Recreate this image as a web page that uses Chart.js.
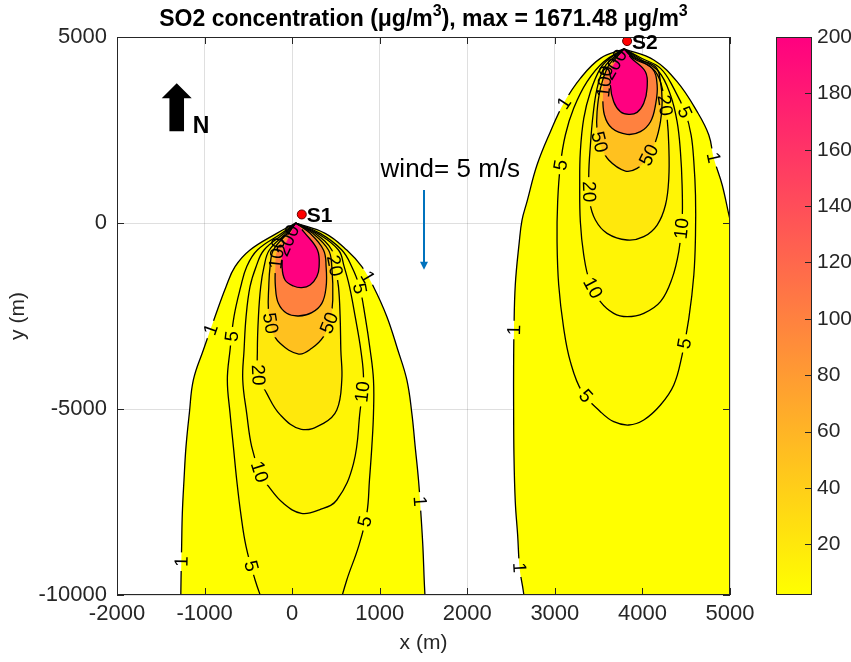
<!DOCTYPE html>
<html>
<head>
<meta charset="utf-8">
<script src="https://cdn.jsdelivr.net/npm/chart.js@4.4.1/dist/chart.umd.min.js"></script>
<style>
  html, body { margin: 0; padding: 0; background: #fff; }
  canvas { display: block; }
</style>
</head>
<body>
<canvas id="plume" width="851" height="662"></canvas>
<script>
// axes
const xTicks = [-2000, -1000, 0, 1000, 2000, 3000, 4000, 5000];
const yTicks = [-10000, -5000, 0, 5000];
const cbTicks = [20, 40, 60, 80, 100, 120, 140, 160, 180, 200];
const cbRange = [2, 200];

// contour levels (ug/m3)
const levels = [1, 5, 10, 20, 50, 100, 200];

// sources
const sourceNames = ['S1', 'S2'];
const sourceX = [110, 3825];
const sourceY = [230, 4890];

// wind annotation (data coords)
const windText = 'wind= 5 m/s';
const windTextAt = [1806, 1425];
const windArrow = [1500, 890, -1260];
const northAt = [-1318, 3755];

// S1 plume contours [x, y] in m
const s1c1 = [[40,0],[-176,-278],[-481,-726],[-652,-1174],[-755,-1712],[-881,-2518],[-1014,-3414],[-1128,-4220],[-1174,-5116],[-1212,-6012],[-1235,-6908],[-1254,-7804],[-1262,-8700],[-1269,-9596],[-1273,-10403],[-1275,-11200],[-1275,-12000],
  [1525,-12000],[1525,-11200],[1523,-10403],[1508,-9596],[1493,-8700],[1470,-7804],[1443,-6908],[1405,-6012],[1367,-5116],[1310,-4220],[1207,-3414],[1082,-2518],[929,-1712],[796,-1174],[624,-726],[377,-278],[40,0]];
const s1c5 = [[40,0],[-119,-278],[-397,-726],[-519,-1174],[-587,-1712],[-664,-2518],[-709,-3414],[-740,-4220],[-709,-5116],[-671,-6012],[-633,-6908],[-587,-7804],[-526,-8700],[-423,-9596],[-309,-10403],[-230,-11200],[-160,-12000],
  [400,-12000],[460,-11200],[529,-10403],[624,-9596],[758,-8700],[853,-7804],[883,-6908],[910,-6012],[929,-5116],[929,-4220],[891,-3414],[834,-2518],[769,-1712],[681,-1174],[567,-726],[320,-278],[40,0]];
const s1c10 = [[40,0],[-92,-278],[-321,-726],[-412,-1174],[-481,-1712],[-526,-2518],[-549,-3414],[-564,-4220],[-519,-5116],[-462,-6012],[-366,-6729],[-267,-7088],[-100,-7536],[105,-7804],
  [310,-7710],[510,-7446],[701,-6460],[777,-5027],[815,-4220],[784,-3414],[720,-2518],[655,-1712],[594,-1174],[529,-726],[289,-278],[40,0]];
const s1c20 = [[40,0],[-69,-278],[-260,-726],[-321,-1174],[-359,-1712],[-385,-2518],[-397,-3414],[-385,-4086],[-290,-4579],[-138,-5150],[105,-5546],
  [358,-5385],[510,-5027],[567,-4220],[556,-3414],[548,-2518],[529,-1712],[491,-1174],[453,-726],[262,-278],[40,0]];
const s1c50 = [[40,0],[-54,-278],[-214,-726],[-252,-1174],[-267,-1712],[-271,-2339],[-233,-2876],[-138,-3235],[75,-3522],
  [224,-3369],[358,-3056],[434,-2608],[464,-2070],[453,-1174],[415,-726],[236,-278],[40,0]];
const s1c100 = [[40,0],[-39,-278],[-168,-726],[-191,-1174],[-191,-1712],[-157,-2160],[-62,-2428],[72,-2500],
  [224,-2410],[339,-2160],[388,-1712],[388,-1174],[358,-726],[205,-278],[40,0]];
const s1c200 = [[40,0],[-16,-278],[-100,-726],[-115,-1174],[-81,-1532],[15,-1694],[110,-1738],
  [205,-1667],[281,-1443],[308,-1174],[289,-726],[148,-278],[40,0]];

// S2 plume contours
const s2c1 = [[3790,4680],[3520,4426],[3291,3888],[3101,3216],[2949,2455],[2796,1559],[2682,573],[2625,80],[2594,-502],[2548,-1667],[2533,-2921],[2529,-3907],[2529,-4803],[2533,-6237],[2548,-7491],[2575,-8387],[2598,-9283],[2640,-9900],[2682,-10716],[2720,-12000],
  [5150,-12000],[5250,-9000],[5300,-6000],[5250,-3000],[5150,-1200],[5006,35],[4911,1021],[4815,1738],[4758,2365],[4625,2992],[4396,3799],[4130,4381],[3790,4680]];
const s2c5 = [[3790,4680],[3558,4336],[3368,3799],[3215,3082],[3120,2365],[3063,1559],[3032,573],[3025,-502],[3044,-1667],[3101,-2832],[3177,-3728],[3310,-4535],[3520,-5072],[3672,-5341],[3844,-5430],
  [4015,-5296],[4206,-4893],[4358,-4355],[4453,-3549],[4530,-2563],[4587,-1398],[4606,-323],[4606,752],[4587,1648],[4556,2365],[4492,2947],[4358,3619],[4206,4157],[3990,4430],[3790,4680]];
const s2c10 = [[3790,4680],[3630,4430],[3520,4157],[3406,3530],[3330,2813],[3291,1917],[3284,1021],[3291,35],[3330,-861],[3398,-1578],[3520,-2115],[3672,-2429],[3825,-2518],
  [4015,-2429],[4206,-2115],[4339,-1488],[4415,-771],[4453,35],[4453,1021],[4434,1917],[4396,2723],[4320,3440],[4187,4067],[3960,4430],[3790,4680]];
const s2c20 = [[3790,4680],[3660,4430],[3558,4157],[3482,3619],[3436,2903],[3406,2096],[3387,1290],[3398,573],[3463,80],[3596,-278],[3825,-457],
  [4015,-368],[4168,-54],[4263,483],[4301,1200],[4301,2096],[4282,2813],[4244,3440],[4149,4067],[3935,4430],[3790,4680]];
const s2c50 = [[3790,4680],[3680,4430],[3596,4157],[3520,3619],[3482,2992],[3482,2455],[3520,2096],[3615,1693],[3806,1397],
  [3939,1469],[4053,1738],[4149,2186],[4206,2723],[4225,3261],[4206,3799],[4150,4200],[3915,4430],[3790,4680]];
const s2c100 = [[3790,4680],[3700,4430],[3577,3978],[3550,3440],[3566,2903],[3653,2544],[3825,2383],
  [3977,2455],[4092,2723],[4149,3171],[4168,3709],[4110,4157],[3895,4430],[3790,4680]];
const s2c200 = [[3790,4680],[3720,4430],[3653,4157],[3634,3709],[3672,3261],[3749,2992],[3844,2921],
  [3939,2974],[4015,3216],[4053,3619],[4034,4067],[3875,4430],[3790,4680]];

// contour labels [level, x, y]
const s1Labels = [[1,-862,-2921],[1,-1281,-9104],[1,853,-1461],[1,1417,-7491],
  [5,-652,-3056],[5,-500,-9238],[5,784,-1756],[5,845,-8028],
  [10,-366,-6684],[10,777,-4534],[20,-385,-4086],[20,529,-1129],
  [50,-252,-2697],[50,434,-2697],[100,-176,-816],[200,-60,-460]];
const s2Labels = [[1,3139,3171],[1,2529,-2877],[1,2532,-9274],[1,4777,1738],
  [5,3063,1559],[5,3387,-4579],[5,4453,2947],[5,4473,-3235],
  [10,3425,-1757],[10,4434,-144],[20,3387,842],[20,4282,3171],
  [50,3520,2186],[50,4072,1827],[100,3580,3800],[200,3690,4250]];

const plumes = [
  { contours: [s1c1, s1c5, s1c10, s1c20, s1c50, s1c100, s1c200], labels: s1Labels },
  { contours: [s2c1, s2c5, s2c10, s2c20, s2c50, s2c100, s2c200], labels: s2Labels }
];

const fontFam = "'Liberation Sans', Arial, Helvetica, sans-serif";
const ink = '#262626';
const labelSize = 19;
Chart.defaults.font.family = fontFam;
Chart.defaults.color = ink;

// yellow -> pink colormap
function cmap(v) {
  const t = Math.max(0, Math.min(1, (v - cbRange[0]) / (cbRange[1] - cbRange[0])));
  return 'rgb(255,' + Math.round(255 * (1 - t)) + ',' + Math.round(128 * t) + ')';
}

const datasets = [];
plumes.forEach((p, pi) => {
  p.contours.forEach((c, li) => {
    const pts = c.map(([x, y]) => ({ x, y }));
    datasets.push({ data: pts, fill: 'shape', backgroundColor: cmap(levels[li]), borderColor: 'rgba(0,0,0,0)',
      borderWidth: 1, tension: 0.4, order: 100 - li, xAxisID: 'x', yAxisID: 'y' });
    datasets.push({ data: pts, fill: false, borderColor: '#000', borderWidth: 1.3, tension: 0.4,
      order: 10, contour: { plume: pi, level: levels[li] }, xAxisID: 'x', yAxisID: 'y' });
  });
});
datasets.push({
  data: sourceX.map((x, i) => ({ x, y: sourceY[i] })), showLine: false,
  pointRadius: 4.5, pointBackgroundColor: '#ff0000', pointBorderColor: '#600000', pointBorderWidth: 1,
  order: 0, xAxisID: 'x', yAxisID: 'y'
});

function placeLabels(chart) {
  const sx = chart.scales.x, sy = chart.scales.y, ctx = chart.ctx;
  ctx.save();
  ctx.font = labelSize + 'px ' + fontFam;
  const out = [];
  plumes.forEach((p, pi) => p.labels.forEach(([lev, x, y]) => {
    const poly = p.contours[levels.indexOf(lev)].map(([a, b]) => [sx.getPixelForValue(a), sy.getPixelForValue(b)]);
    const px = sx.getPixelForValue(x), py = sy.getPixelForValue(y);
    let best = null;
    for (let i = 0; i < poly.length - 1; i++) {
      const [x1, y1] = poly[i], [x2, y2] = poly[i + 1];
      const dx = x2 - x1, dy = y2 - y1, l2 = dx * dx + dy * dy || 1;
      const t = Math.max(0, Math.min(1, ((px - x1) * dx + (py - y1) * dy) / l2));
      const qx = x1 + t * dx, qy = y1 + t * dy, d = Math.hypot(px - qx, py - qy);
      if (!best || d < best.d) best = { d, qx, qy, a: Math.atan2(dy, dx) };
    }
    let a = best.a;
    if (a > Math.PI / 2) a -= Math.PI;
    if (a < -Math.PI / 2) a += Math.PI;
    const text = String(lev);
    out.push({ plume: pi, level: lev, x: best.qx, y: best.qy, a, text, w: ctx.measureText(text).width + 8, h: 17 });
  }));
  ctx.restore();
  return out;
}

function drawRich(ctx, parts, cx, base, size, supSize) {
  let total = 0;
  parts.forEach(([t, sup]) => { ctx.font = 'bold ' + (sup ? supSize : size) + 'px ' + fontFam; total += ctx.measureText(t).width; });
  let x = cx - total / 2;
  parts.forEach(([t, sup]) => {
    ctx.font = 'bold ' + (sup ? supSize : size) + 'px ' + fontFam;
    ctx.fillText(t, x, sup ? base - size * 0.42 : base);
    x += ctx.measureText(t).width;
  });
}

const overlay = {
  id: 'overlay',
  beforeDatasetsDraw(chart) { chart.$labels = placeLabels(chart); },
  beforeDatasetDraw(chart, args) {
    const ds = chart.data.datasets[args.index];
    if (!ds.contour) return;
    const ctx = chart.ctx;
    ctx.save();
    ctx.beginPath();
    ctx.rect(0, 0, chart.width, chart.height);
    chart.$labels.filter(l => l.plume === ds.contour.plume && l.level === ds.contour.level).forEach(l => {
      const c = Math.cos(l.a), s = Math.sin(l.a), hw = l.w / 2, hh = l.h / 2;
      const pts = [[-hw, -hh], [hw, -hh], [hw, hh], [-hw, hh]].map(([u, v]) => [l.x + u * c - v * s, l.y + u * s + v * c]);
      ctx.moveTo(pts[0][0], pts[0][1]);
      pts.slice(1).forEach(q => ctx.lineTo(q[0], q[1]));
      ctx.closePath();
    });
    ctx.clip('evenodd');
  },
  afterDatasetDraw(chart, args) {
    if (chart.data.datasets[args.index].contour) chart.ctx.restore();
  },
  afterDatasetsDraw(chart) {
    const ctx = chart.ctx;
    ctx.save();
    ctx.font = labelSize + 'px ' + fontFam;
    ctx.fillStyle = '#000';
    ctx.textAlign = 'center';
    ctx.textBaseline = 'middle';
    chart.$labels.forEach(l => {
      ctx.save();
      ctx.translate(l.x, l.y);
      ctx.rotate(l.a);
      ctx.fillText(l.text, 0, 1);
      ctx.restore();
    });
    ctx.restore();
  },
  afterDraw(chart) {
    const ctx = chart.ctx, a = chart.chartArea, sx = chart.scales.x, sy = chart.scales.y, cb = chart.scales.cb;
    ctx.save();
    // box + inward ticks
    ctx.strokeStyle = ink;
    ctx.lineWidth = 1;
    ctx.strokeRect(a.left + 0.5, a.top + 0.5, a.right - a.left - 1, a.bottom - a.top - 1);
    ctx.beginPath();
    xTicks.forEach(v => {
      const x = Math.round(sx.getPixelForValue(v)) + 0.5;
      ctx.moveTo(x, a.bottom); ctx.lineTo(x, a.bottom - 7);
      ctx.moveTo(x, a.top); ctx.lineTo(x, a.top + 7);
    });
    yTicks.forEach(v => {
      const y = Math.round(sy.getPixelForValue(v)) + 0.5;
      ctx.moveTo(a.left, y); ctx.lineTo(a.left + 7, y);
      ctx.moveTo(a.right, y); ctx.lineTo(a.right - 7, y);
    });
    ctx.stroke();

    // title and axis titles
    ctx.fillStyle = '#000';
    ctx.textBaseline = 'alphabetic';
    ctx.textAlign = 'left';
    drawRich(ctx, [['SO2 concentration (\u03bcg/m', 0], ['3', 1], ['), max = 1671.48 \u03bcg/m', 0], ['3', 1]],
      (a.left + a.right) / 2, 26, 23, 16);
    ctx.fillStyle = ink;
    ctx.font = '21px ' + fontFam;
    ctx.textAlign = 'center';
    ctx.textBaseline = 'middle';
    ctx.fillText('x (m)', (a.left + a.right) / 2, 643);
    ctx.save();
    ctx.translate(18, (a.top + a.bottom) / 2);
    ctx.rotate(-Math.PI / 2);
    ctx.fillText('y (m)', 0, 0);
    ctx.restore();

    // source names
    ctx.fillStyle = '#000';
    ctx.font = 'bold 21px ' + fontFam;
    ctx.textAlign = 'left';
    sourceNames.forEach((n, i) => {
      ctx.fillText(n, sx.getPixelForValue(sourceX[i]) + 5, sy.getPixelForValue(sourceY[i]) + 2);
    });

    // wind
    ctx.font = '26px ' + fontFam;
    ctx.textAlign = 'center';
    ctx.fillText(windText, sx.getPixelForValue(windTextAt[0]), sy.getPixelForValue(windTextAt[1]));
    const wx = Math.round(sx.getPixelForValue(windArrow[0])), w1 = sy.getPixelForValue(windArrow[1]), w2 = sy.getPixelForValue(windArrow[2]);
    ctx.strokeStyle = '#0072BD';
    ctx.fillStyle = '#0072BD';
    ctx.lineWidth = 2;
    ctx.beginPath(); ctx.moveTo(wx, w1); ctx.lineTo(wx, w2 - 6); ctx.stroke();
    ctx.beginPath(); ctx.moveTo(wx - 4, w2 - 8); ctx.lineTo(wx + 4, w2 - 8); ctx.lineTo(wx, w2); ctx.closePath(); ctx.fill();

    // north arrow
    const nx = sx.getPixelForValue(northAt[0]), ny = sy.getPixelForValue(northAt[1]);
    ctx.fillStyle = '#000';
    ctx.beginPath();
    ctx.moveTo(nx, ny); ctx.lineTo(nx + 15, ny + 15); ctx.lineTo(nx + 7.3, ny + 15); ctx.lineTo(nx + 7.3, ny + 48);
    ctx.lineTo(nx - 7.3, ny + 48); ctx.lineTo(nx - 7.3, ny + 15); ctx.lineTo(nx - 15, ny + 15); ctx.closePath();
    ctx.fill();
    ctx.font = 'bold 23px ' + fontFam;
    ctx.textAlign = 'left';
    ctx.textBaseline = 'alphabetic';
    ctx.fillText('N', nx + 16, ny + 50);

    // colorbar
    const cbL = 776, cbW = 36;
    const top = cb.getPixelForValue(cbRange[1]), bot = cb.getPixelForValue(cbRange[0]);
    const g = ctx.createLinearGradient(0, bot, 0, top);
    g.addColorStop(0, cmap(cbRange[0]));
    g.addColorStop(0.5, cmap((cbRange[0] + cbRange[1]) / 2));
    g.addColorStop(1, cmap(cbRange[1]));
    ctx.fillStyle = g;
    ctx.fillRect(cbL, top, cbW, bot - top);
    ctx.strokeStyle = ink;
    ctx.lineWidth = 1;
    ctx.strokeRect(cbL + 0.5, top + 0.5, cbW - 1, bot - top - 1);
    ctx.beginPath();
    cbTicks.forEach(v => {
      const y = Math.round(cb.getPixelForValue(v)) + 0.5;
      ctx.moveTo(cbL + cbW, y); ctx.lineTo(cbL + cbW - 7, y);
    });
    ctx.stroke();
    ctx.fillStyle = ink;
    ctx.font = '21px ' + fontFam;
    ctx.textAlign = 'left';
    ctx.textBaseline = 'middle';
    cbTicks.forEach(v => ctx.fillText(String(v), cbL + cbW + 5, cb.getPixelForValue(v)));
    ctx.restore();
  }
};

new Chart(document.getElementById('plume'), {
  type: 'line',
  data: { datasets },
  options: {
    responsive: false,
    animation: false,
    devicePixelRatio: 1,
    layout: { padding: { left: 0, top: 37, right: 121, bottom: 0 } },
    plugins: { legend: { display: false }, tooltip: { enabled: false } },
    elements: { point: { radius: 0 }, line: { capBezierPoints: false } },
    scales: {
      x: {
        type: 'linear', min: -2000, max: 5000, z: 1,
        afterBuildTicks: s => { s.ticks = xTicks.map(v => ({ value: v })); },
        afterFit: s => { s.height = 67; },
        grid: { color: 'rgba(38,38,38,0.15)', drawTicks: false },
        border: { display: false },
        ticks: { font: { size: 22 }, padding: 6, maxRotation: 0, autoSkip: false, callback: v => String(v) }
      },
      y: {
        type: 'linear', min: -10000, max: 5000, z: 1,
        afterBuildTicks: s => { s.ticks = yTicks.map(v => ({ value: v })); },
        afterFit: s => { s.width = 117; },
        grid: { color: 'rgba(38,38,38,0.15)', drawTicks: false },
        border: { display: false },
        ticks: { font: { size: 22 }, padding: 10, autoSkip: false, callback: v => String(v) }
      },
      cb: { type: 'linear', display: false, position: 'right', min: cbRange[0], max: cbRange[1] }
    }
  },
  plugins: [overlay]
});
</script>
</body>
</html>
